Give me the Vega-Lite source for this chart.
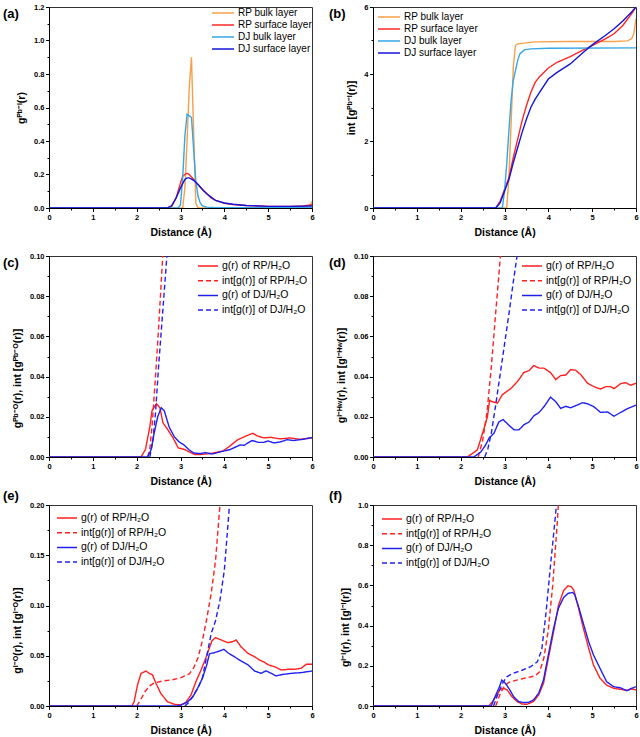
{
"$schema": "https://vega.github.io/schema/vega-lite/v6.json",
"background": "white",
"padding": {"left": 2, "top": 2, "right": 2, "bottom": 0},
"config": {
  "font": "Liberation Sans",
  "view": {"stroke": "#333", "strokeWidth": 1},
  "axis": {"labelFont": "Liberation Sans", "labelFontSize": 7.5, "labelFontWeight": "bold", "labelColor": "#000", "titleFont": "Liberation Sans", "titleFontSize": 10.5, "titleFontWeight": "bold", "titleColor": "#000", "domainColor": "#000", "tickColor": "#000", "grid": false, "labelPadding": 1.5, "titlePadding": 7, "labelOverlap": false, "labelFlush": false},
  "title": {"font": "Liberation Sans", "fontSize": 13, "fontWeight": "bold", "anchor": "start", "frame": "group", "color": "#000"},
  "legend": {"labelFont": "Liberation Sans", "labelFontSize": 10, "labelColor": "#000", "symbolType": "stroke", "symbolStrokeWidth": 1.5, "symbolSize": 484, "clipHeight": 12, "rowPadding": 0, "labelOffset": 3, "padding": 0}
},
"datasets": {
"pa": [
{"r":0,"v":0,"s":"RP bulk layer"},{"r":3.05,"v":0,"s":"RP bulk layer"},{"r":3.1,"v":0.12,"s":"RP bulk layer"},{"r":3.15,"v":0.4,"s":"RP bulk layer"},{"r":3.2,"v":0.72,"s":"RP bulk layer"},{"r":3.25,"v":0.9,"s":"RP bulk layer"},{"r":3.3,"v":0.45,"s":"RP bulk layer"},{"r":3.35,"v":0.03,"s":"RP bulk layer"},{"r":3.4,"v":0,"s":"RP bulk layer"},{"r":5.9,"v":0,"s":"RP bulk layer"},{"r":5.95,"v":0.005,"s":"RP bulk layer"},{"r":6.0,"v":0.04,"s":"RP bulk layer"},
{"r":0,"v":0,"s":"RP surface layer"},{"r":2.7,"v":0,"s":"RP surface layer"},{"r":2.8,"v":0.01,"s":"RP surface layer"},{"r":2.9,"v":0.06,"s":"RP surface layer"},{"r":3.0,"v":0.15,"s":"RP surface layer"},{"r":3.05,"v":0.19,"s":"RP surface layer"},{"r":3.1,"v":0.2,"s":"RP surface layer"},{"r":3.15,"v":0.207,"s":"RP surface layer"},{"r":3.2,"v":0.2,"s":"RP surface layer"},{"r":3.3,"v":0.17,"s":"RP surface layer"},{"r":3.4,"v":0.14,"s":"RP surface layer"},{"r":3.5,"v":0.11,"s":"RP surface layer"},{"r":3.6,"v":0.085,"s":"RP surface layer"},{"r":3.7,"v":0.06,"s":"RP surface layer"},{"r":3.8,"v":0.045,"s":"RP surface layer"},{"r":4.0,"v":0.028,"s":"RP surface layer"},{"r":4.2,"v":0.02,"s":"RP surface layer"},{"r":4.5,"v":0.015,"s":"RP surface layer"},{"r":5.0,"v":0.01,"s":"RP surface layer"},{"r":5.5,"v":0.01,"s":"RP surface layer"},{"r":5.8,"v":0.012,"s":"RP surface layer"},{"r":6.0,"v":0.02,"s":"RP surface layer"},
{"r":0,"v":0,"s":"DJ bulk layer"},{"r":2.95,"v":0,"s":"DJ bulk layer"},{"r":3.0,"v":0.02,"s":"DJ bulk layer"},{"r":3.05,"v":0.18,"s":"DJ bulk layer"},{"r":3.1,"v":0.43,"s":"DJ bulk layer"},{"r":3.15,"v":0.56,"s":"DJ bulk layer"},{"r":3.2,"v":0.55,"s":"DJ bulk layer"},{"r":3.25,"v":0.54,"s":"DJ bulk layer"},{"r":3.3,"v":0.35,"s":"DJ bulk layer"},{"r":3.35,"v":0.16,"s":"DJ bulk layer"},{"r":3.4,"v":0.07,"s":"DJ bulk layer"},{"r":3.45,"v":0.03,"s":"DJ bulk layer"},{"r":3.5,"v":0.012,"s":"DJ bulk layer"},{"r":3.6,"v":0.005,"s":"DJ bulk layer"},{"r":3.8,"v":0.002,"s":"DJ bulk layer"},{"r":6.0,"v":0.002,"s":"DJ bulk layer"},
{"r":0,"v":0,"s":"DJ surface layer"},{"r":2.7,"v":0,"s":"DJ surface layer"},{"r":2.8,"v":0.015,"s":"DJ surface layer"},{"r":2.9,"v":0.06,"s":"DJ surface layer"},{"r":3.0,"v":0.12,"s":"DJ surface layer"},{"r":3.1,"v":0.17,"s":"DJ surface layer"},{"r":3.15,"v":0.18,"s":"DJ surface layer"},{"r":3.2,"v":0.18,"s":"DJ surface layer"},{"r":3.3,"v":0.165,"s":"DJ surface layer"},{"r":3.4,"v":0.14,"s":"DJ surface layer"},{"r":3.5,"v":0.11,"s":"DJ surface layer"},{"r":3.6,"v":0.085,"s":"DJ surface layer"},{"r":3.7,"v":0.065,"s":"DJ surface layer"},{"r":3.8,"v":0.045,"s":"DJ surface layer"},{"r":4.0,"v":0.03,"s":"DJ surface layer"},{"r":4.2,"v":0.022,"s":"DJ surface layer"},{"r":4.5,"v":0.015,"s":"DJ surface layer"},{"r":5.0,"v":0.01,"s":"DJ surface layer"},{"r":5.5,"v":0.01,"s":"DJ surface layer"},{"r":6.0,"v":0.012,"s":"DJ surface layer"}
],
"pb": [
{"r":0,"v":0,"s":"RP bulk layer"},{"r":3.05,"v":0,"s":"RP bulk layer"},{"r":3.1,"v":0.9,"s":"RP bulk layer"},{"r":3.15,"v":2.5,"s":"RP bulk layer"},{"r":3.2,"v":4.2,"s":"RP bulk layer"},{"r":3.25,"v":4.85,"s":"RP bulk layer"},{"r":3.3,"v":4.9,"s":"RP bulk layer"},{"r":3.5,"v":4.93,"s":"RP bulk layer"},{"r":3.7,"v":4.96,"s":"RP bulk layer"},{"r":4.5,"v":4.97,"s":"RP bulk layer"},{"r":5.5,"v":4.97,"s":"RP bulk layer"},{"r":5.8,"v":4.99,"s":"RP bulk layer"},{"r":5.9,"v":5.05,"s":"RP bulk layer"},{"r":5.95,"v":5.2,"s":"RP bulk layer"},{"r":6.0,"v":5.65,"s":"RP bulk layer"},
{"r":0,"v":0,"s":"RP surface layer"},{"r":2.8,"v":0,"s":"RP surface layer"},{"r":2.9,"v":0.2,"s":"RP surface layer"},{"r":3.0,"v":0.55,"s":"RP surface layer"},{"r":3.1,"v":0.9,"s":"RP surface layer"},{"r":3.2,"v":1.5,"s":"RP surface layer"},{"r":3.3,"v":2.05,"s":"RP surface layer"},{"r":3.4,"v":2.6,"s":"RP surface layer"},{"r":3.5,"v":3.05,"s":"RP surface layer"},{"r":3.6,"v":3.45,"s":"RP surface layer"},{"r":3.7,"v":3.75,"s":"RP surface layer"},{"r":3.8,"v":3.92,"s":"RP surface layer"},{"r":4.0,"v":4.18,"s":"RP surface layer"},{"r":4.2,"v":4.35,"s":"RP surface layer"},{"r":4.5,"v":4.52,"s":"RP surface layer"},{"r":4.8,"v":4.72,"s":"RP surface layer"},{"r":5.0,"v":4.85,"s":"RP surface layer"},{"r":5.3,"v":5.05,"s":"RP surface layer"},{"r":5.5,"v":5.2,"s":"RP surface layer"},{"r":5.7,"v":5.45,"s":"RP surface layer"},{"r":5.9,"v":5.8,"s":"RP surface layer"},{"r":6.0,"v":6.0,"s":"RP surface layer"},
{"r":0,"v":0,"s":"DJ bulk layer"},{"r":2.95,"v":0,"s":"DJ bulk layer"},{"r":3.0,"v":0.5,"s":"DJ bulk layer"},{"r":3.05,"v":1.3,"s":"DJ bulk layer"},{"r":3.1,"v":2.3,"s":"DJ bulk layer"},{"r":3.15,"v":3.2,"s":"DJ bulk layer"},{"r":3.2,"v":3.8,"s":"DJ bulk layer"},{"r":3.25,"v":4.1,"s":"DJ bulk layer"},{"r":3.3,"v":4.4,"s":"DJ bulk layer"},{"r":3.35,"v":4.6,"s":"DJ bulk layer"},{"r":3.45,"v":4.72,"s":"DJ bulk layer"},{"r":3.6,"v":4.75,"s":"DJ bulk layer"},{"r":4.0,"v":4.77,"s":"DJ bulk layer"},{"r":6.0,"v":4.78,"s":"DJ bulk layer"},
{"r":0,"v":0,"s":"DJ surface layer"},{"r":2.8,"v":0,"s":"DJ surface layer"},{"r":2.9,"v":0.15,"s":"DJ surface layer"},{"r":3.0,"v":0.5,"s":"DJ surface layer"},{"r":3.1,"v":0.85,"s":"DJ surface layer"},{"r":3.2,"v":1.35,"s":"DJ surface layer"},{"r":3.3,"v":1.8,"s":"DJ surface layer"},{"r":3.4,"v":2.25,"s":"DJ surface layer"},{"r":3.5,"v":2.65,"s":"DJ surface layer"},{"r":3.6,"v":3.0,"s":"DJ surface layer"},{"r":3.7,"v":3.25,"s":"DJ surface layer"},{"r":3.8,"v":3.45,"s":"DJ surface layer"},{"r":4.0,"v":3.85,"s":"DJ surface layer"},{"r":4.2,"v":4.05,"s":"DJ surface layer"},{"r":4.5,"v":4.3,"s":"DJ surface layer"},{"r":4.8,"v":4.65,"s":"DJ surface layer"},{"r":5.0,"v":4.87,"s":"DJ surface layer"},{"r":5.3,"v":5.15,"s":"DJ surface layer"},{"r":5.5,"v":5.35,"s":"DJ surface layer"},{"r":5.7,"v":5.58,"s":"DJ surface layer"},{"r":5.9,"v":5.85,"s":"DJ surface layer"},{"r":6.0,"v":6.0,"s":"DJ surface layer"}
],
"pc": [
{"r":0,"v":0,"s":"g(r) of RP/H₂O"},{"r":2.1,"v":0,"s":"g(r) of RP/H₂O"},{"r":2.2,"v":0.0037,"s":"g(r) of RP/H₂O"},{"r":2.3,"v":0.015,"s":"g(r) of RP/H₂O"},{"r":2.35,"v":0.023,"s":"g(r) of RP/H₂O"},{"r":2.45,"v":0.0265,"s":"g(r) of RP/H₂O"},{"r":2.53,"v":0.0245,"s":"g(r) of RP/H₂O"},{"r":2.6,"v":0.017,"s":"g(r) of RP/H₂O"},{"r":2.71,"v":0.0136,"s":"g(r) of RP/H₂O"},{"r":2.83,"v":0.0095,"s":"g(r) of RP/H₂O"},{"r":2.95,"v":0.0045,"s":"g(r) of RP/H₂O"},{"r":3.1,"v":0.0037,"s":"g(r) of RP/H₂O"},{"r":3.2,"v":0.0025,"s":"g(r) of RP/H₂O"},{"r":3.33,"v":0.0012,"s":"g(r) of RP/H₂O"},{"r":3.5,"v":0.0013,"s":"g(r) of RP/H₂O"},{"r":3.7,"v":0.0018,"s":"g(r) of RP/H₂O"},{"r":3.97,"v":0.003,"s":"g(r) of RP/H₂O"},{"r":4.1,"v":0.005,"s":"g(r) of RP/H₂O"},{"r":4.3,"v":0.0085,"s":"g(r) of RP/H₂O"},{"r":4.5,"v":0.0105,"s":"g(r) of RP/H₂O"},{"r":4.65,"v":0.0118,"s":"g(r) of RP/H₂O"},{"r":4.75,"v":0.0105,"s":"g(r) of RP/H₂O"},{"r":4.9,"v":0.0095,"s":"g(r) of RP/H₂O"},{"r":5.05,"v":0.0098,"s":"g(r) of RP/H₂O"},{"r":5.28,"v":0.009,"s":"g(r) of RP/H₂O"},{"r":5.5,"v":0.0095,"s":"g(r) of RP/H₂O"},{"r":5.73,"v":0.0088,"s":"g(r) of RP/H₂O"},{"r":6.0,"v":0.0095,"s":"g(r) of RP/H₂O"},
{"r":2.25,"v":0,"s":"int[g(r)] of RP/H₂O"},{"r":2.3,"v":0.004,"s":"int[g(r)] of RP/H₂O"},{"r":2.35,"v":0.015,"s":"int[g(r)] of RP/H₂O"},{"r":2.43,"v":0.04,"s":"int[g(r)] of RP/H₂O"},{"r":2.5,"v":0.064,"s":"int[g(r)] of RP/H₂O"},{"r":2.6,"v":0.102,"s":"int[g(r)] of RP/H₂O"},{"r":2.7,"v":0.14,"s":"int[g(r)] of RP/H₂O"},
{"r":0,"v":0,"s":"g(r) of DJ/H₂O"},{"r":2.25,"v":0,"s":"g(r) of DJ/H₂O"},{"r":2.33,"v":0.0037,"s":"g(r) of DJ/H₂O"},{"r":2.4,"v":0.012,"s":"g(r) of DJ/H₂O"},{"r":2.48,"v":0.02,"s":"g(r) of DJ/H₂O"},{"r":2.56,"v":0.0245,"s":"g(r) of DJ/H₂O"},{"r":2.63,"v":0.023,"s":"g(r) of DJ/H₂O"},{"r":2.74,"v":0.015,"s":"g(r) of DJ/H₂O"},{"r":2.86,"v":0.01,"s":"g(r) of DJ/H₂O"},{"r":2.97,"v":0.0075,"s":"g(r) of DJ/H₂O"},{"r":3.08,"v":0.006,"s":"g(r) of DJ/H₂O"},{"r":3.2,"v":0.0035,"s":"g(r) of DJ/H₂O"},{"r":3.3,"v":0.002,"s":"g(r) of DJ/H₂O"},{"r":3.45,"v":0.0017,"s":"g(r) of DJ/H₂O"},{"r":3.57,"v":0.0022,"s":"g(r) of DJ/H₂O"},{"r":3.72,"v":0.0015,"s":"g(r) of DJ/H₂O"},{"r":3.9,"v":0.0025,"s":"g(r) of DJ/H₂O"},{"r":4.13,"v":0.0037,"s":"g(r) of DJ/H₂O"},{"r":4.36,"v":0.006,"s":"g(r) of DJ/H₂O"},{"r":4.45,"v":0.0058,"s":"g(r) of DJ/H₂O"},{"r":4.63,"v":0.0082,"s":"g(r) of DJ/H₂O"},{"r":4.78,"v":0.0073,"s":"g(r) of DJ/H₂O"},{"r":4.9,"v":0.0073,"s":"g(r) of DJ/H₂O"},{"r":5.0,"v":0.008,"s":"g(r) of DJ/H₂O"},{"r":5.13,"v":0.007,"s":"g(r) of DJ/H₂O"},{"r":5.28,"v":0.0075,"s":"g(r) of DJ/H₂O"},{"r":5.43,"v":0.0086,"s":"g(r) of DJ/H₂O"},{"r":5.58,"v":0.0082,"s":"g(r) of DJ/H₂O"},{"r":5.8,"v":0.0088,"s":"g(r) of DJ/H₂O"},{"r":6.0,"v":0.0097,"s":"g(r) of DJ/H₂O"},
{"r":2.3,"v":0,"s":"int[g(r)] of DJ/H₂O"},{"r":2.37,"v":0.008,"s":"int[g(r)] of DJ/H₂O"},{"r":2.43,"v":0.022,"s":"int[g(r)] of DJ/H₂O"},{"r":2.5,"v":0.045,"s":"int[g(r)] of DJ/H₂O"},{"r":2.6,"v":0.074,"s":"int[g(r)] of DJ/H₂O"},{"r":2.7,"v":0.103,"s":"int[g(r)] of DJ/H₂O"},{"r":2.8,"v":0.135,"s":"int[g(r)] of DJ/H₂O"}
],
"pd": [
{"r":0,"v":0,"s":"g(r) of RP/H₂O"},{"r":2.15,"v":0,"s":"g(r) of RP/H₂O"},{"r":2.25,"v":0.0015,"s":"g(r) of RP/H₂O"},{"r":2.38,"v":0.0035,"s":"g(r) of RP/H₂O"},{"r":2.53,"v":0.014,"s":"g(r) of RP/H₂O"},{"r":2.61,"v":0.02,"s":"g(r) of RP/H₂O"},{"r":2.66,"v":0.0282,"s":"g(r) of RP/H₂O"},{"r":2.72,"v":0.0275,"s":"g(r) of RP/H₂O"},{"r":2.84,"v":0.0268,"s":"g(r) of RP/H₂O"},{"r":2.95,"v":0.031,"s":"g(r) of RP/H₂O"},{"r":3.14,"v":0.034,"s":"g(r) of RP/H₂O"},{"r":3.29,"v":0.0374,"s":"g(r) of RP/H₂O"},{"r":3.44,"v":0.042,"s":"g(r) of RP/H₂O"},{"r":3.56,"v":0.043,"s":"g(r) of RP/H₂O"},{"r":3.67,"v":0.0455,"s":"g(r) of RP/H₂O"},{"r":3.79,"v":0.0442,"s":"g(r) of RP/H₂O"},{"r":3.9,"v":0.0442,"s":"g(r) of RP/H₂O"},{"r":4.05,"v":0.042,"s":"g(r) of RP/H₂O"},{"r":4.17,"v":0.0385,"s":"g(r) of RP/H₂O"},{"r":4.28,"v":0.0405,"s":"g(r) of RP/H₂O"},{"r":4.4,"v":0.0408,"s":"g(r) of RP/H₂O"},{"r":4.51,"v":0.0435,"s":"g(r) of RP/H₂O"},{"r":4.62,"v":0.0432,"s":"g(r) of RP/H₂O"},{"r":4.74,"v":0.041,"s":"g(r) of RP/H₂O"},{"r":4.89,"v":0.0368,"s":"g(r) of RP/H₂O"},{"r":5.04,"v":0.035,"s":"g(r) of RP/H₂O"},{"r":5.19,"v":0.0338,"s":"g(r) of RP/H₂O"},{"r":5.31,"v":0.035,"s":"g(r) of RP/H₂O"},{"r":5.42,"v":0.035,"s":"g(r) of RP/H₂O"},{"r":5.5,"v":0.034,"s":"g(r) of RP/H₂O"},{"r":5.65,"v":0.0365,"s":"g(r) of RP/H₂O"},{"r":5.76,"v":0.037,"s":"g(r) of RP/H₂O"},{"r":5.88,"v":0.0357,"s":"g(r) of RP/H₂O"},{"r":6.0,"v":0.0367,"s":"g(r) of RP/H₂O"},
{"r":2.4,"v":0,"s":"int[g(r)] of RP/H₂O"},{"r":2.5,"v":0.008,"s":"int[g(r)] of RP/H₂O"},{"r":2.6,"v":0.022,"s":"int[g(r)] of RP/H₂O"},{"r":2.7,"v":0.045,"s":"int[g(r)] of RP/H₂O"},{"r":2.8,"v":0.072,"s":"int[g(r)] of RP/H₂O"},{"r":2.9,"v":0.098,"s":"int[g(r)] of RP/H₂O"},{"r":3.0,"v":0.125,"s":"int[g(r)] of RP/H₂O"},
{"r":0,"v":0,"s":"g(r) of DJ/H₂O"},{"r":2.3,"v":0,"s":"g(r) of DJ/H₂O"},{"r":2.46,"v":0.0025,"s":"g(r) of DJ/H₂O"},{"r":2.57,"v":0.006,"s":"g(r) of DJ/H₂O"},{"r":2.65,"v":0.0095,"s":"g(r) of DJ/H₂O"},{"r":2.76,"v":0.0118,"s":"g(r) of DJ/H₂O"},{"r":2.87,"v":0.0174,"s":"g(r) of DJ/H₂O"},{"r":2.97,"v":0.0186,"s":"g(r) of DJ/H₂O"},{"r":3.1,"v":0.0158,"s":"g(r) of DJ/H₂O"},{"r":3.22,"v":0.0135,"s":"g(r) of DJ/H₂O"},{"r":3.33,"v":0.0135,"s":"g(r) of DJ/H₂O"},{"r":3.44,"v":0.016,"s":"g(r) of DJ/H₂O"},{"r":3.56,"v":0.0174,"s":"g(r) of DJ/H₂O"},{"r":3.67,"v":0.0205,"s":"g(r) of DJ/H₂O"},{"r":3.79,"v":0.0222,"s":"g(r) of DJ/H₂O"},{"r":3.9,"v":0.025,"s":"g(r) of DJ/H₂O"},{"r":4.05,"v":0.0298,"s":"g(r) of DJ/H₂O"},{"r":4.17,"v":0.0275,"s":"g(r) of DJ/H₂O"},{"r":4.28,"v":0.0242,"s":"g(r) of DJ/H₂O"},{"r":4.4,"v":0.0252,"s":"g(r) of DJ/H₂O"},{"r":4.51,"v":0.0245,"s":"g(r) of DJ/H₂O"},{"r":4.62,"v":0.0255,"s":"g(r) of DJ/H₂O"},{"r":4.78,"v":0.027,"s":"g(r) of DJ/H₂O"},{"r":4.89,"v":0.0265,"s":"g(r) of DJ/H₂O"},{"r":5.04,"v":0.025,"s":"g(r) of DJ/H₂O"},{"r":5.19,"v":0.0222,"s":"g(r) of DJ/H₂O"},{"r":5.35,"v":0.0224,"s":"g(r) of DJ/H₂O"},{"r":5.5,"v":0.0203,"s":"g(r) of DJ/H₂O"},{"r":5.65,"v":0.0222,"s":"g(r) of DJ/H₂O"},{"r":5.8,"v":0.024,"s":"g(r) of DJ/H₂O"},{"r":6.0,"v":0.0258,"s":"g(r) of DJ/H₂O"},
{"r":2.55,"v":0,"s":"int[g(r)] of DJ/H₂O"},{"r":2.62,"v":0.004,"s":"int[g(r)] of DJ/H₂O"},{"r":2.7,"v":0.012,"s":"int[g(r)] of DJ/H₂O"},{"r":2.8,"v":0.026,"s":"int[g(r)] of DJ/H₂O"},{"r":2.9,"v":0.041,"s":"int[g(r)] of DJ/H₂O"},{"r":3.0,"v":0.056,"s":"int[g(r)] of DJ/H₂O"},{"r":3.1,"v":0.071,"s":"int[g(r)] of DJ/H₂O"},{"r":3.2,"v":0.087,"s":"int[g(r)] of DJ/H₂O"},{"r":3.3,"v":0.102,"s":"int[g(r)] of DJ/H₂O"},{"r":3.4,"v":0.12,"s":"int[g(r)] of DJ/H₂O"}
],
"pe": [
{"r":0,"v":0,"s":"g(r) of RP/H₂O"},{"r":1.89,"v":0,"s":"g(r) of RP/H₂O"},{"r":1.94,"v":0.004,"s":"g(r) of RP/H₂O"},{"r":2.02,"v":0.021,"s":"g(r) of RP/H₂O"},{"r":2.1,"v":0.0325,"s":"g(r) of RP/H₂O"},{"r":2.21,"v":0.0348,"s":"g(r) of RP/H₂O"},{"r":2.29,"v":0.0325,"s":"g(r) of RP/H₂O"},{"r":2.36,"v":0.031,"s":"g(r) of RP/H₂O"},{"r":2.44,"v":0.0226,"s":"g(r) of RP/H₂O"},{"r":2.55,"v":0.0126,"s":"g(r) of RP/H₂O"},{"r":2.7,"v":0.0043,"s":"g(r) of RP/H₂O"},{"r":2.86,"v":0.0017,"s":"g(r) of RP/H₂O"},{"r":3.01,"v":0.001,"s":"g(r) of RP/H₂O"},{"r":3.12,"v":0.0036,"s":"g(r) of RP/H₂O"},{"r":3.24,"v":0.011,"s":"g(r) of RP/H₂O"},{"r":3.35,"v":0.024,"s":"g(r) of RP/H₂O"},{"r":3.47,"v":0.036,"s":"g(r) of RP/H₂O"},{"r":3.58,"v":0.048,"s":"g(r) of RP/H₂O"},{"r":3.66,"v":0.058,"s":"g(r) of RP/H₂O"},{"r":3.72,"v":0.065,"s":"g(r) of RP/H₂O"},{"r":3.8,"v":0.068,"s":"g(r) of RP/H₂O"},{"r":3.93,"v":0.0657,"s":"g(r) of RP/H₂O"},{"r":4.08,"v":0.063,"s":"g(r) of RP/H₂O"},{"r":4.19,"v":0.064,"s":"g(r) of RP/H₂O"},{"r":4.27,"v":0.0657,"s":"g(r) of RP/H₂O"},{"r":4.38,"v":0.059,"s":"g(r) of RP/H₂O"},{"r":4.54,"v":0.0524,"s":"g(r) of RP/H₂O"},{"r":4.69,"v":0.049,"s":"g(r) of RP/H₂O"},{"r":4.8,"v":0.0458,"s":"g(r) of RP/H₂O"},{"r":4.92,"v":0.0434,"s":"g(r) of RP/H₂O"},{"r":5.0,"v":0.041,"s":"g(r) of RP/H₂O"},{"r":5.15,"v":0.039,"s":"g(r) of RP/H₂O"},{"r":5.3,"v":0.0358,"s":"g(r) of RP/H₂O"},{"r":5.45,"v":0.0365,"s":"g(r) of RP/H₂O"},{"r":5.6,"v":0.0365,"s":"g(r) of RP/H₂O"},{"r":5.75,"v":0.0375,"s":"g(r) of RP/H₂O"},{"r":5.87,"v":0.0415,"s":"g(r) of RP/H₂O"},{"r":6.0,"v":0.0415,"s":"g(r) of RP/H₂O"},
{"r":2.0,"v":0,"s":"int[g(r)] of RP/H₂O"},{"r":2.1,"v":0.007,"s":"int[g(r)] of RP/H₂O"},{"r":2.2,"v":0.015,"s":"int[g(r)] of RP/H₂O"},{"r":2.3,"v":0.02,"s":"int[g(r)] of RP/H₂O"},{"r":2.4,"v":0.023,"s":"int[g(r)] of RP/H₂O"},{"r":2.6,"v":0.025,"s":"int[g(r)] of RP/H₂O"},{"r":2.8,"v":0.026,"s":"int[g(r)] of RP/H₂O"},{"r":3.0,"v":0.028,"s":"int[g(r)] of RP/H₂O"},{"r":3.2,"v":0.032,"s":"int[g(r)] of RP/H₂O"},{"r":3.3,"v":0.038,"s":"int[g(r)] of RP/H₂O"},{"r":3.4,"v":0.048,"s":"int[g(r)] of RP/H₂O"},{"r":3.5,"v":0.065,"s":"int[g(r)] of RP/H₂O"},{"r":3.6,"v":0.087,"s":"int[g(r)] of RP/H₂O"},{"r":3.7,"v":0.112,"s":"int[g(r)] of RP/H₂O"},{"r":3.8,"v":0.145,"s":"int[g(r)] of RP/H₂O"},{"r":3.9,"v":0.2,"s":"int[g(r)] of RP/H₂O"},{"r":3.95,"v":0.23,"s":"int[g(r)] of RP/H₂O"},
{"r":0,"v":0,"s":"g(r) of DJ/H₂O"},{"r":2.9,"v":0,"s":"g(r) of DJ/H₂O"},{"r":3.01,"v":0.001,"s":"g(r) of DJ/H₂O"},{"r":3.16,"v":0.004,"s":"g(r) of DJ/H₂O"},{"r":3.28,"v":0.009,"s":"g(r) of DJ/H₂O"},{"r":3.39,"v":0.0176,"s":"g(r) of DJ/H₂O"},{"r":3.5,"v":0.0275,"s":"g(r) of DJ/H₂O"},{"r":3.6,"v":0.041,"s":"g(r) of DJ/H₂O"},{"r":3.66,"v":0.052,"s":"g(r) of DJ/H₂O"},{"r":3.77,"v":0.053,"s":"g(r) of DJ/H₂O"},{"r":3.89,"v":0.0547,"s":"g(r) of DJ/H₂O"},{"r":3.99,"v":0.0564,"s":"g(r) of DJ/H₂O"},{"r":4.08,"v":0.053,"s":"g(r) of DJ/H₂O"},{"r":4.23,"v":0.049,"s":"g(r) of DJ/H₂O"},{"r":4.38,"v":0.0448,"s":"g(r) of DJ/H₂O"},{"r":4.54,"v":0.041,"s":"g(r) of DJ/H₂O"},{"r":4.69,"v":0.0348,"s":"g(r) of DJ/H₂O"},{"r":4.84,"v":0.0325,"s":"g(r) of DJ/H₂O"},{"r":4.95,"v":0.035,"s":"g(r) of DJ/H₂O"},{"r":5.07,"v":0.0325,"s":"g(r) of DJ/H₂O"},{"r":5.18,"v":0.03,"s":"g(r) of DJ/H₂O"},{"r":5.34,"v":0.0315,"s":"g(r) of DJ/H₂O"},{"r":5.53,"v":0.0325,"s":"g(r) of DJ/H₂O"},{"r":5.75,"v":0.0332,"s":"g(r) of DJ/H₂O"},{"r":6.0,"v":0.0348,"s":"g(r) of DJ/H₂O"},
{"r":3.1,"v":0,"s":"int[g(r)] of DJ/H₂O"},{"r":3.2,"v":0.004,"s":"int[g(r)] of DJ/H₂O"},{"r":3.3,"v":0.011,"s":"int[g(r)] of DJ/H₂O"},{"r":3.4,"v":0.018,"s":"int[g(r)] of DJ/H₂O"},{"r":3.5,"v":0.028,"s":"int[g(r)] of DJ/H₂O"},{"r":3.6,"v":0.05,"s":"int[g(r)] of DJ/H₂O"},{"r":3.7,"v":0.072,"s":"int[g(r)] of DJ/H₂O"},{"r":3.8,"v":0.085,"s":"int[g(r)] of DJ/H₂O"},{"r":3.9,"v":0.105,"s":"int[g(r)] of DJ/H₂O"},{"r":4.0,"v":0.135,"s":"int[g(r)] of DJ/H₂O"},{"r":4.1,"v":0.19,"s":"int[g(r)] of DJ/H₂O"},{"r":4.15,"v":0.22,"s":"int[g(r)] of DJ/H₂O"}
],
"pf": [
{"r":0,"v":0,"s":"g(r) of RP/H₂O"},{"r":2.64,"v":0,"s":"g(r) of RP/H₂O"},{"r":2.72,"v":0.02,"s":"g(r) of RP/H₂O"},{"r":2.83,"v":0.055,"s":"g(r) of RP/H₂O"},{"r":2.9,"v":0.083,"s":"g(r) of RP/H₂O"},{"r":2.98,"v":0.088,"s":"g(r) of RP/H₂O"},{"r":3.06,"v":0.08,"s":"g(r) of RP/H₂O"},{"r":3.17,"v":0.046,"s":"g(r) of RP/H₂O"},{"r":3.29,"v":0.022,"s":"g(r) of RP/H₂O"},{"r":3.4,"v":0.01,"s":"g(r) of RP/H₂O"},{"r":3.51,"v":0.008,"s":"g(r) of RP/H₂O"},{"r":3.66,"v":0.022,"s":"g(r) of RP/H₂O"},{"r":3.78,"v":0.055,"s":"g(r) of RP/H₂O"},{"r":3.89,"v":0.113,"s":"g(r) of RP/H₂O"},{"r":4.0,"v":0.237,"s":"g(r) of RP/H₂O"},{"r":4.12,"v":0.37,"s":"g(r) of RP/H₂O"},{"r":4.23,"v":0.5,"s":"g(r) of RP/H₂O"},{"r":4.35,"v":0.575,"s":"g(r) of RP/H₂O"},{"r":4.45,"v":0.598,"s":"g(r) of RP/H₂O"},{"r":4.52,"v":0.594,"s":"g(r) of RP/H₂O"},{"r":4.58,"v":0.577,"s":"g(r) of RP/H₂O"},{"r":4.69,"v":0.486,"s":"g(r) of RP/H₂O"},{"r":4.8,"v":0.386,"s":"g(r) of RP/H₂O"},{"r":4.92,"v":0.287,"s":"g(r) of RP/H₂O"},{"r":5.03,"v":0.204,"s":"g(r) of RP/H₂O"},{"r":5.18,"v":0.138,"s":"g(r) of RP/H₂O"},{"r":5.33,"v":0.104,"s":"g(r) of RP/H₂O"},{"r":5.49,"v":0.088,"s":"g(r) of RP/H₂O"},{"r":5.64,"v":0.083,"s":"g(r) of RP/H₂O"},{"r":5.79,"v":0.078,"s":"g(r) of RP/H₂O"},{"r":5.9,"v":0.085,"s":"g(r) of RP/H₂O"},{"r":6.0,"v":0.08,"s":"g(r) of RP/H₂O"},
{"r":2.8,"v":0,"s":"int[g(r)] of RP/H₂O"},{"r":2.9,"v":0.06,"s":"int[g(r)] of RP/H₂O"},{"r":3.0,"v":0.1,"s":"int[g(r)] of RP/H₂O"},{"r":3.1,"v":0.118,"s":"int[g(r)] of RP/H₂O"},{"r":3.3,"v":0.13,"s":"int[g(r)] of RP/H₂O"},{"r":3.5,"v":0.14,"s":"int[g(r)] of RP/H₂O"},{"r":3.7,"v":0.15,"s":"int[g(r)] of RP/H₂O"},{"r":3.8,"v":0.17,"s":"int[g(r)] of RP/H₂O"},{"r":3.9,"v":0.24,"s":"int[g(r)] of RP/H₂O"},{"r":4.0,"v":0.38,"s":"int[g(r)] of RP/H₂O"},{"r":4.1,"v":0.6,"s":"int[g(r)] of RP/H₂O"},{"r":4.2,"v":0.9,"s":"int[g(r)] of RP/H₂O"},{"r":4.25,"v":1.08,"s":"int[g(r)] of RP/H₂O"},
{"r":0,"v":0,"s":"g(r) of DJ/H₂O"},{"r":2.7,"v":0,"s":"g(r) of DJ/H₂O"},{"r":2.75,"v":0.03,"s":"g(r) of DJ/H₂O"},{"r":2.87,"v":0.088,"s":"g(r) of DJ/H₂O"},{"r":2.94,"v":0.129,"s":"g(r) of DJ/H₂O"},{"r":3.02,"v":0.113,"s":"g(r) of DJ/H₂O"},{"r":3.1,"v":0.088,"s":"g(r) of DJ/H₂O"},{"r":3.21,"v":0.046,"s":"g(r) of DJ/H₂O"},{"r":3.32,"v":0.022,"s":"g(r) of DJ/H₂O"},{"r":3.44,"v":0.017,"s":"g(r) of DJ/H₂O"},{"r":3.55,"v":0.018,"s":"g(r) of DJ/H₂O"},{"r":3.66,"v":0.03,"s":"g(r) of DJ/H₂O"},{"r":3.78,"v":0.063,"s":"g(r) of DJ/H₂O"},{"r":3.89,"v":0.13,"s":"g(r) of DJ/H₂O"},{"r":4.0,"v":0.254,"s":"g(r) of DJ/H₂O"},{"r":4.12,"v":0.386,"s":"g(r) of DJ/H₂O"},{"r":4.23,"v":0.486,"s":"g(r) of DJ/H₂O"},{"r":4.35,"v":0.54,"s":"g(r) of DJ/H₂O"},{"r":4.45,"v":0.56,"s":"g(r) of DJ/H₂O"},{"r":4.55,"v":0.565,"s":"g(r) of DJ/H₂O"},{"r":4.6,"v":0.555,"s":"g(r) of DJ/H₂O"},{"r":4.69,"v":0.494,"s":"g(r) of DJ/H₂O"},{"r":4.8,"v":0.41,"s":"g(r) of DJ/H₂O"},{"r":4.92,"v":0.32,"s":"g(r) of DJ/H₂O"},{"r":5.03,"v":0.254,"s":"g(r) of DJ/H₂O"},{"r":5.18,"v":0.187,"s":"g(r) of DJ/H₂O"},{"r":5.33,"v":0.121,"s":"g(r) of DJ/H₂O"},{"r":5.49,"v":0.096,"s":"g(r) of DJ/H₂O"},{"r":5.64,"v":0.091,"s":"g(r) of DJ/H₂O"},{"r":5.79,"v":0.076,"s":"g(r) of DJ/H₂O"},{"r":5.9,"v":0.088,"s":"g(r) of DJ/H₂O"},{"r":6.0,"v":0.096,"s":"g(r) of DJ/H₂O"},
{"r":2.75,"v":0,"s":"int[g(r)] of DJ/H₂O"},{"r":2.85,"v":0.06,"s":"int[g(r)] of DJ/H₂O"},{"r":2.95,"v":0.11,"s":"int[g(r)] of DJ/H₂O"},{"r":3.05,"v":0.145,"s":"int[g(r)] of DJ/H₂O"},{"r":3.2,"v":0.163,"s":"int[g(r)] of DJ/H₂O"},{"r":3.4,"v":0.178,"s":"int[g(r)] of DJ/H₂O"},{"r":3.6,"v":0.196,"s":"int[g(r)] of DJ/H₂O"},{"r":3.75,"v":0.22,"s":"int[g(r)] of DJ/H₂O"},{"r":3.85,"v":0.28,"s":"int[g(r)] of DJ/H₂O"},{"r":3.95,"v":0.47,"s":"int[g(r)] of DJ/H₂O"},{"r":4.05,"v":0.7,"s":"int[g(r)] of DJ/H₂O"},{"r":4.15,"v":0.92,"s":"int[g(r)] of DJ/H₂O"},{"r":4.22,"v":1.08,"s":"int[g(r)] of DJ/H₂O"}
]
},
"columns": 2,
"spacing": {"row": 48, "column": 61},
"bounds": "flush",
"resolve": {"scale": {"color": "independent", "strokeDash": "independent", "x": "independent", "y": "independent"}, "legend": {"color": "independent", "strokeDash": "independent"}},
"concat": [
{
 "width": 263, "height": 201,
 "title": {"text": "(a)", "dx": -46, "offset": -18},
 "data": {"name": "pa"},
 "mark": {"type": "line", "clip": true, "strokeWidth": 1.4},
 "encoding": {
  "x": {"field": "r", "type": "quantitative", "scale": {"domain": [0, 6], "nice": false}, "axis": {"title": "Distance (Å)", "values": [0,0.5,1,1.5,2,2.5,3,3.5,4,4.5,5,5.5,6], "labelExpr": "datum.value % 1 === 0 ? format(datum.value, 'd') : ''", "tickSize": {"condition": {"test": "datum.value % 1 === 0", "value": 3.5}, "value": 2}}},
  "y": {"field": "v", "type": "quantitative", "scale": {"domain": [0, 1.2], "nice": false}, "axis": {"title": "gᴾᵇ⁻ᴵ(r)", "values": [0,0.1,0.2,0.3,0.4,0.5,0.6,0.7,0.8,0.9,1.0,1.1,1.2], "labelExpr": "round(datum.value*10) % 2 === 0 ? format(datum.value, '.1f') : ''", "tickSize": {"condition": {"test": "round(datum.value*10) % 2 === 0", "value": 3.5}, "value": 2}}},
  "color": {"field": "s", "type": "nominal", "scale": {"domain": ["RP bulk layer", "RP surface layer", "DJ bulk layer", "DJ surface layer"], "range": ["#F7A04B", "#FF2626", "#35A6E6", "#1515D8"]}, "legend": {"title": null, "orient": "top-right", "offset": 0}}
 }
},
{
 "width": 263, "height": 201,
 "title": {"text": "(b)", "dx": -44, "offset": -18},
 "data": {"name": "pb"},
 "mark": {"type": "line", "clip": true, "strokeWidth": 1.4},
 "encoding": {
  "x": {"field": "r", "type": "quantitative", "scale": {"domain": [0, 6], "nice": false}, "axis": {"title": "Distance (Å)", "values": [0,0.5,1,1.5,2,2.5,3,3.5,4,4.5,5,5.5,6], "labelExpr": "datum.value % 1 === 0 ? format(datum.value, 'd') : ''", "tickSize": {"condition": {"test": "datum.value % 1 === 0", "value": 3.5}, "value": 2}}},
  "y": {"field": "v", "type": "quantitative", "scale": {"domain": [0, 6], "nice": false}, "axis": {"title": "int [gᴾᵇ⁻ᴵ(r)]", "values": [0,1,2,3,4,5,6], "labelExpr": "datum.value % 2 === 0 ? format(datum.value, 'd') : ''", "tickSize": {"condition": {"test": "datum.value % 2 === 0", "value": 3.5}, "value": 2}}},
  "color": {"field": "s", "type": "nominal", "scale": {"domain": ["RP bulk layer", "RP surface layer", "DJ bulk layer", "DJ surface layer"], "range": ["#F7A04B", "#FF2626", "#35A6E6", "#1515D8"]}, "legend": {"title": null, "orient": "top-left", "offset": 4}}
 }
},
{
 "width": 263, "height": 201,
 "title": {"text": "(c)", "dx": -46, "offset": -18},
 "data": {"name": "pc"},
 "mark": {"type": "line", "clip": true, "strokeWidth": 1.4},
 "encoding": {
  "x": {"field": "r", "type": "quantitative", "scale": {"domain": [0, 6], "nice": false}, "axis": {"title": "Distance (Å)", "values": [0,0.5,1,1.5,2,2.5,3,3.5,4,4.5,5,5.5,6], "labelExpr": "datum.value % 1 === 0 ? format(datum.value, 'd') : ''", "tickSize": {"condition": {"test": "datum.value % 1 === 0", "value": 3.5}, "value": 2}}},
  "y": {"field": "v", "type": "quantitative", "scale": {"domain": [0, 0.1], "nice": false}, "axis": {"title": "gᴾᵇ⁻ᴼ(r), int [gᴾᵇ⁻ᴼ(r)]", "titleY": 122, "values": [0,0.01,0.02,0.03,0.04,0.05,0.06,0.07,0.08,0.09,0.1], "labelExpr": "round(datum.value*100) % 2 === 0 ? format(datum.value, '.2f') : ''", "tickSize": {"condition": {"test": "round(datum.value*100) % 2 === 0", "value": 3.5}, "value": 2}}},
  "color": {"field": "s", "type": "nominal", "scale": {"domain": ["g(r) of RP/H₂O", "int[g(r)] of RP/H₂O", "g(r) of DJ/H₂O", "int[g(r)] of DJ/H₂O"], "range": ["#FF2020", "#FF2020", "#2020F0", "#2020F0"]}, "legend": {"title": null, "orient": "top-right", "offset": 4, "labelFontSize": 10.5, "symbolSize": 400, "rowPadding": 2.7}},
  "strokeDash": {"field": "s", "type": "nominal", "scale": {"domain": ["g(r) of RP/H₂O", "int[g(r)] of RP/H₂O", "g(r) of DJ/H₂O", "int[g(r)] of DJ/H₂O"], "range": [[1,0],[5,3],[1,0],[5,3]]}, "legend": {"title": null, "orient": "top-right", "offset": 4, "labelFontSize": 10.5, "symbolSize": 400, "rowPadding": 2.7}}
 }
},
{
 "width": 263, "height": 201,
 "title": {"text": "(d)", "dx": -44, "offset": -18},
 "data": {"name": "pd"},
 "mark": {"type": "line", "clip": true, "strokeWidth": 1.4},
 "encoding": {
  "x": {"field": "r", "type": "quantitative", "scale": {"domain": [0, 6], "nice": false}, "axis": {"title": "Distance (Å)", "values": [0,0.5,1,1.5,2,2.5,3,3.5,4,4.5,5,5.5,6], "labelExpr": "datum.value % 1 === 0 ? format(datum.value, 'd') : ''", "tickSize": {"condition": {"test": "datum.value % 1 === 0", "value": 3.5}, "value": 2}}},
  "y": {"field": "v", "type": "quantitative", "scale": {"domain": [0, 0.1], "nice": false}, "axis": {"title": "gᴵ⁻ᴴʷ(r), int [gᴵ⁻ᴴʷ(r)]", "titleY": 119, "values": [0,0.01,0.02,0.03,0.04,0.05,0.06,0.07,0.08,0.09,0.1], "labelExpr": "round(datum.value*100) % 2 === 0 ? format(datum.value, '.2f') : ''", "tickSize": {"condition": {"test": "round(datum.value*100) % 2 === 0", "value": 3.5}, "value": 2}}},
  "color": {"field": "s", "type": "nominal", "scale": {"domain": ["g(r) of RP/H₂O", "int[g(r)] of RP/H₂O", "g(r) of DJ/H₂O", "int[g(r)] of DJ/H₂O"], "range": ["#FF2020", "#FF2020", "#2020F0", "#2020F0"]}, "legend": {"title": null, "orient": "top-right", "offset": 4, "labelFontSize": 10.5, "symbolSize": 400, "rowPadding": 2.7}},
  "strokeDash": {"field": "s", "type": "nominal", "scale": {"domain": ["g(r) of RP/H₂O", "int[g(r)] of RP/H₂O", "g(r) of DJ/H₂O", "int[g(r)] of DJ/H₂O"], "range": [[1,0],[5,3],[1,0],[5,3]]}, "legend": {"title": null, "orient": "top-right", "offset": 4, "labelFontSize": 10.5, "symbolSize": 400, "rowPadding": 2.7}}
 }
},
{
 "width": 263, "height": 201,
 "title": {"text": "(e)", "dx": -46, "offset": -2},
 "data": {"name": "pe"},
 "mark": {"type": "line", "clip": true, "strokeWidth": 1.4},
 "encoding": {
  "x": {"field": "r", "type": "quantitative", "scale": {"domain": [0, 6], "nice": false}, "axis": {"title": "Distance (Å)", "values": [0,0.5,1,1.5,2,2.5,3,3.5,4,4.5,5,5.5,6], "labelExpr": "datum.value % 1 === 0 ? format(datum.value, 'd') : ''", "tickSize": {"condition": {"test": "datum.value % 1 === 0", "value": 3.5}, "value": 2}}},
  "y": {"field": "v", "type": "quantitative", "scale": {"domain": [0, 0.2], "nice": false}, "axis": {"title": "gᴵ⁻ᴼ(r), int [gᴵ⁻ᴼ(r)]", "titleY": 125, "values": [0,0.025,0.05,0.075,0.1,0.125,0.15,0.175,0.2], "labelExpr": "round(datum.value*1000) % 50 === 0 ? format(datum.value, '.2f') : ''", "tickSize": {"condition": {"test": "round(datum.value*1000) % 50 === 0", "value": 3.5}, "value": 2}}},
  "color": {"field": "s", "type": "nominal", "scale": {"domain": ["g(r) of RP/H₂O", "int[g(r)] of RP/H₂O", "g(r) of DJ/H₂O", "int[g(r)] of DJ/H₂O"], "range": ["#FF2020", "#FF2020", "#2020F0", "#2020F0"]}, "legend": {"title": null, "orient": "top-left", "offset": 7, "labelFontSize": 10.5, "symbolSize": 400, "rowPadding": 2.7}},
  "strokeDash": {"field": "s", "type": "nominal", "scale": {"domain": ["g(r) of RP/H₂O", "int[g(r)] of RP/H₂O", "g(r) of DJ/H₂O", "int[g(r)] of DJ/H₂O"], "range": [[1,0],[5,3],[1,0],[5,3]]}, "legend": {"title": null, "orient": "top-left", "offset": 7, "labelFontSize": 10.5, "symbolSize": 400, "rowPadding": 2.7}}
 }
},
{
 "width": 263, "height": 201,
 "title": {"text": "(f)", "dx": -44, "offset": -2},
 "data": {"name": "pf"},
 "mark": {"type": "line", "clip": true, "strokeWidth": 1.4},
 "encoding": {
  "x": {"field": "r", "type": "quantitative", "scale": {"domain": [0, 6], "nice": false}, "axis": {"title": "Distance (Å)", "values": [0,0.5,1,1.5,2,2.5,3,3.5,4,4.5,5,5.5,6], "labelExpr": "datum.value % 1 === 0 ? format(datum.value, 'd') : ''", "tickSize": {"condition": {"test": "datum.value % 1 === 0", "value": 3.5}, "value": 2}}},
  "y": {"field": "v", "type": "quantitative", "scale": {"domain": [0, 1], "nice": false}, "axis": {"title": "gᴵ⁻ᴵ(r), int [gᴵ⁻ᴵ(r)]", "titleY": 122, "values": [0,0.1,0.2,0.3,0.4,0.5,0.6,0.7,0.8,0.9,1.0], "labelExpr": "round(datum.value*10) % 2 === 0 ? format(datum.value, '.1f') : ''", "tickSize": {"condition": {"test": "round(datum.value*10) % 2 === 0", "value": 3.5}, "value": 2}}},
  "color": {"field": "s", "type": "nominal", "scale": {"domain": ["g(r) of RP/H₂O", "int[g(r)] of RP/H₂O", "g(r) of DJ/H₂O", "int[g(r)] of DJ/H₂O"], "range": ["#FF2020", "#FF2020", "#2020F0", "#2020F0"]}, "legend": {"title": null, "orient": "top-left", "offset": 8, "labelFontSize": 10.5, "symbolSize": 400, "rowPadding": 2.7}},
  "strokeDash": {"field": "s", "type": "nominal", "scale": {"domain": ["g(r) of RP/H₂O", "int[g(r)] of RP/H₂O", "g(r) of DJ/H₂O", "int[g(r)] of DJ/H₂O"], "range": [[1,0],[5,3],[1,0],[5,3]]}, "legend": {"title": null, "orient": "top-left", "offset": 8, "labelFontSize": 10.5, "symbolSize": 400, "rowPadding": 2.7}}
 }
}
]
}
